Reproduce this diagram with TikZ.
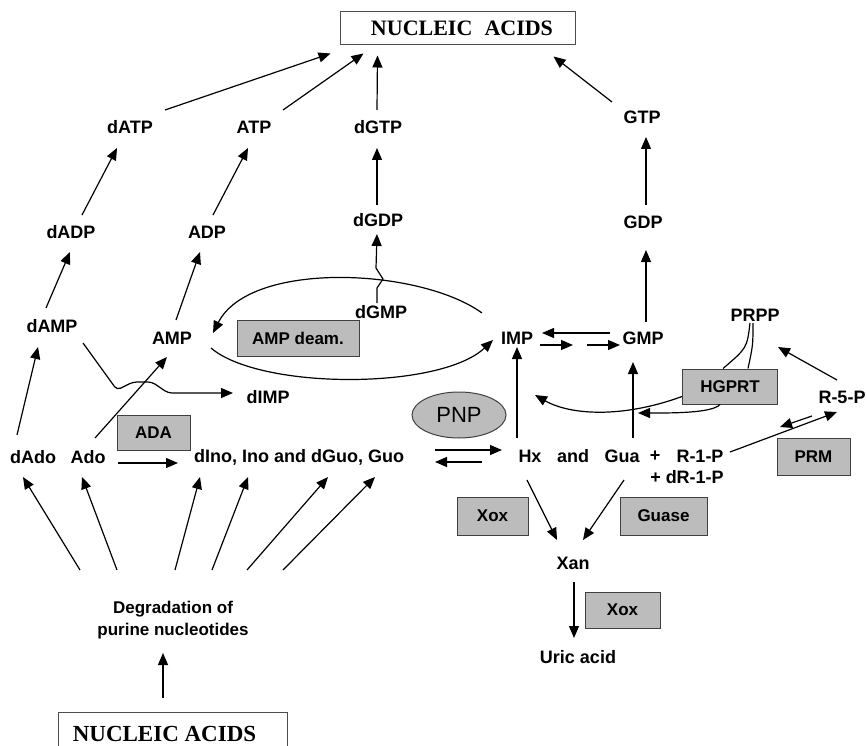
\documentclass[tikz,border=0pt]{standalone}
\usepackage{fontspec}
\setmainfont{Liberation Serif}
\newfontfamily\pathfont{Liberation Sans}
\usetikzlibrary{arrows.meta,shapes.geometric}
\definecolor{boxgray}{RGB}{188,188,188}

\begin{document}
\begin{tikzpicture}[x=1pt, y=-1pt,
	metab/.style={font=\pathfont\bfseries\fontsize{18}{21}\selectfont, inner sep=1pt},
	enzyme/.style={draw=black!75, fill=boxgray, line width=1pt, inner sep=0pt, font=\pathfont\bfseries\fontsize{17}{19}\selectfont},
	acidbox/.style={draw=black!70, line width=1pt, inner sep=0pt, font=\bfseries\fontsize{22}{24}\selectfont},
	reac/.style={line width=1.2pt, -{Triangle[length=12pt,width=10pt]}},
	link/.style={line width=1.2pt}]

	\useasboundingbox (0,0) rectangle (867,746);

	% nucleic acid boxes
	\node[acidbox, minimum width=235pt, minimum height=33pt] (acids) at (457.5,28.5) {\hspace*{9pt}NUCLEIC\hspace{0.3em} ACIDS};
	\node[acidbox, minimum width=229pt, minimum height=44pt, font=\bfseries\fontsize{23}{25}\selectfont] (acidsB) at (172.5,734) {NUCLEIC ACIDS\hspace*{16pt}};

	% nucleotides
	\node[metab] (dATP) at (130,127) {dATP};
	\node[metab] (ATP) at (254,127) {ATP};
	\node[metab] (dGTP) at (378,127) {dGTP};
	\node[metab] (GTP) at (642,117) {GTP};
	\node[metab] (dADP) at (71,232) {dADP};
	\node[metab] (ADP) at (207,232) {ADP};
	\node[metab] (dGDP) at (378,220) {dGDP};
	\node[metab] (GDP) at (643,222) {GDP};
	\node[metab] (dAMP) at (52,326) {dAMP};
	\node[metab] (AMP) at (172,338) {AMP};
	\node[metab] (dGMP) at (381,312) {dGMP};
	\node[metab] (IMP) at (517,338) {IMP};
	\node[metab] (GMP) at (643,338) {GMP};
	\node[metab] (PRPP) at (755,315) {PRPP};
	\node[metab] (dIMP) at (268,397) {dIMP};
	\node[metab] (R5P) at (842,397) {R-5-P};

	% nucleosides and bases
	\node[metab] (dAdo) at (33,457) {dAdo};
	\node[metab] (Ado) at (88,457) {Ado};
	\node[metab] (nucleo) at (299,457) {dIno, Ino and dGuo, Guo};
	\node[metab] (Hx) at (530,456) {Hx};
	\node[metab] (andword) at (573,456) {and};
	\node[metab] (Gua) at (622,456) {Gua};
	\node[metab] (plus) at (655,456) {+};
	\node[metab] (R1P) at (700,456) {R-1-P};
	\node[metab] (dR1P) at (687,477) {+ dR-1-P};
	\node[metab] (Xan) at (573,563) {Xan};
	\node[metab] (uric) at (578,657) {Uric acid};
	\node[metab, font=\pathfont\bfseries\fontsize{17}{22}\selectfont, align=center] (degr) at (173,620) {Degradation of\\purine nucleotides};

	% enzymes
	\node[enzyme, minimum width=122pt, minimum height=36pt] (deam) at (298,338) {AMP deam.};
	\node[enzyme, minimum width=73pt, minimum height=35pt] (ada) at (153.5,432.5) {ADA};
	\node[enzyme, minimum width=95pt, minimum height=35pt] (hgprt) at (730,386.5) {HGPRT};
	\node[enzyme, minimum width=73pt, minimum height=37pt] (prm) at (813.5,456.5) {PRM};
	\node[enzyme, minimum width=71pt, minimum height=38pt] (xoxA) at (492.5,516) {Xox};
	\node[enzyme, minimum width=87pt, minimum height=38pt] (guase) at (663.5,516) {Guase};
	\node[enzyme, minimum width=75pt, minimum height=36pt] (xoxB) at (622.5,610) {Xox};
	\node[enzyme, ellipse, minimum width=94pt, minimum height=46pt, font=\pathfont\fontsize{22}{24}\selectfont] (pnp) at (459,415) {PNP};

	% phosphorylation up to nucleic acids
	\draw[reac] ([shift={(35,-17)}]dATP.center) -- ([shift={(-127,25)}]acids.center);
	\draw[reac] ([shift={(29,-17)}]ATP.center) -- ([shift={(-94,25)}]acids.center);
	\draw[reac] ([shift={(-1,-17)}]dGTP.center) -- ([shift={(-80,27)}]acids.center);
	\draw[reac] ([shift={(-30,-15)}]GTP.center) -- ([shift={(96,28)}]acids.center);
	\draw[reac] ([shift={(11,-17)}]dADP.center) -- ([shift={(-13,21)}]dATP.center);
	\draw[reac] ([shift={(6,-17)}]ADP.center) -- ([shift={(-6,21)}]ATP.center);
	\draw[reac] ([shift={(-1,-15)}]dGDP.center) -- ([shift={(-1,21)}]dGTP.center);
	\draw[reac] ([shift={(3,-17)}]GDP.center) -- ([shift={(4,20)}]GTP.center);
	\draw[reac] ([shift={(-6,-18)}]dAMP.center) -- ([shift={(-1,20)}]dADP.center);
	\draw[reac] ([shift={(4,-18)}]AMP.center) -- ([shift={(-7,20)}]ADP.center);
	\draw[reac] ([shift={(3,-16)}]GMP.center) -- ([shift={(3,28)}]GDP.center);
	\draw[reac] ([shift={(-4,-9)}]dGMP.center) -- ++(0,-15) -- ++(6,-9) -- ++(-7,-11) -- ([shift={(-1,14)}]dGDP.center);

	% AMP deaminase loop
	\draw[reac] ([shift={(-35,-25)}]IMP.center) .. controls +(-62,-45) and +(37,-73) .. ([shift={(41,-5)}]AMP.center);
	\draw[reac] ([shift={(39,10)}]AMP.center) .. controls +(49,42) and +(-53,50) .. ([shift={(-24,2)}]IMP.center);

	% IMP and GMP
	\draw[reac] ([shift={(-33,-5)}]GMP.center) -- ([shift={(25,-5)}]IMP.center);
	\draw[reac] ([shift={(23,7)}]IMP.center) -- ([shift={(56,7)}]IMP.center);
	\draw[reac] ([shift={(-56,7)}]GMP.center) -- ([shift={(-23,7)}]GMP.center);
	\draw[reac] ([shift={(-13,-18)}]Hx.center) -- ([shift={(0,9)}]IMP.center);
	\draw[reac] ([shift={(11,-18)}]Gua.center) -- ([shift={(-10,24)}]GMP.center);

	% salvage by HGPRT
	\draw[link] ([shift={(-5,8)}]PRPP.center) .. controls +(-3,25) .. ([xshift=-7pt]hgprt.north);
	\draw[link] ([shift={(-2,8)}]PRPP.center) .. controls +(0,22) .. ([xshift=18pt]hgprt.north);
	\draw[reac] ([yshift=-10pt]hgprt.west) .. controls +(-60,22) and +(35,20) .. ([shift={(18,57)}]IMP.center);
	\draw[reac] ([xshift=-10pt]hgprt.south) .. controls +(-8,9) and +(30,0) .. ([shift={(16,-43)}]Gua.center);
	\draw[reac] ([shift={(-5,-17)}]R5P.center) -- ([shift={(23,32)}]PRPP.center);
	\draw[reac] ([shift={(30,-4)}]R1P.center) -- ([shift={(-5,15)}]R5P.center);
	\draw[reac] ([shift={(-30,19)}]R5P.center) -- ([shift={(80,-29)}]R1P.center);

	% PNP, reversible
	\draw[reac] ([shift={(136,-7)}]nucleo.center) -- ([shift={(-28,-6)}]Hx.center);
	\draw[reac] ([shift={(-48,6)}]Hx.center) -- ([shift={(136,5)}]nucleo.center);

	% catabolism to uric acid
	\draw[reac] ([shift={(-3,24)}]Hx.center) -- ([shift={(-16,-23)}]Xan.center);
	\draw[reac] ([shift={(2,24)}]Gua.center) -- ([shift={(10,-23)}]Xan.center);
	\draw[reac] ([shift={(1,19)}]Xan.center) -- ([shift={(-4,-19)}]uric.center);

	% adenosine side
	\draw[reac] ([shift={(-16,-22)}]dAdo.center) -- ([shift={(-14,21)}]dAMP.center);
	\draw[reac] ([shift={(7,-19)}]Ado.center) -- ([shift={(-5,19)}]AMP.center);
	\draw[reac, rounded corners=4pt] ([shift={(31,17)}]dAMP.center) -- ++(34,47) -- ++(16,-8) -- ++(19,0) -- ++(16,11) -- ([shift={(-35,-4)}]dIMP.center);
	\draw[reac] ([shift={(30,6)}]Ado.center) -- ([shift={(-121,6)}]nucleo.center);

	% degradation fan
	\draw[reac] ([shift={(-93,-50)}]degr.center) -- ([shift={(-10,20)}]dAdo.center);
	\draw[reac] ([shift={(-56,-50)}]degr.center) -- ([shift={(-6,20)}]Ado.center);
	\draw[reac] ([shift={(2,-50)}]degr.center) -- ([shift={(-99,20)}]nucleo.center);
	\draw[reac] ([shift={(39,-50)}]degr.center) -- ([shift={(-51,20)}]nucleo.center);
	\draw[reac] ([shift={(74,-50)}]degr.center) -- ([shift={(29,20)}]nucleo.center);
	\draw[reac] ([shift={(110,-50)}]degr.center) -- ([shift={(76,20)}]nucleo.center);
	\draw[reac] ([shift={(-9.5,-36)}]acidsB.center) -- ([shift={(-10,33)}]degr.center);

\end{tikzpicture}
\end{document}
